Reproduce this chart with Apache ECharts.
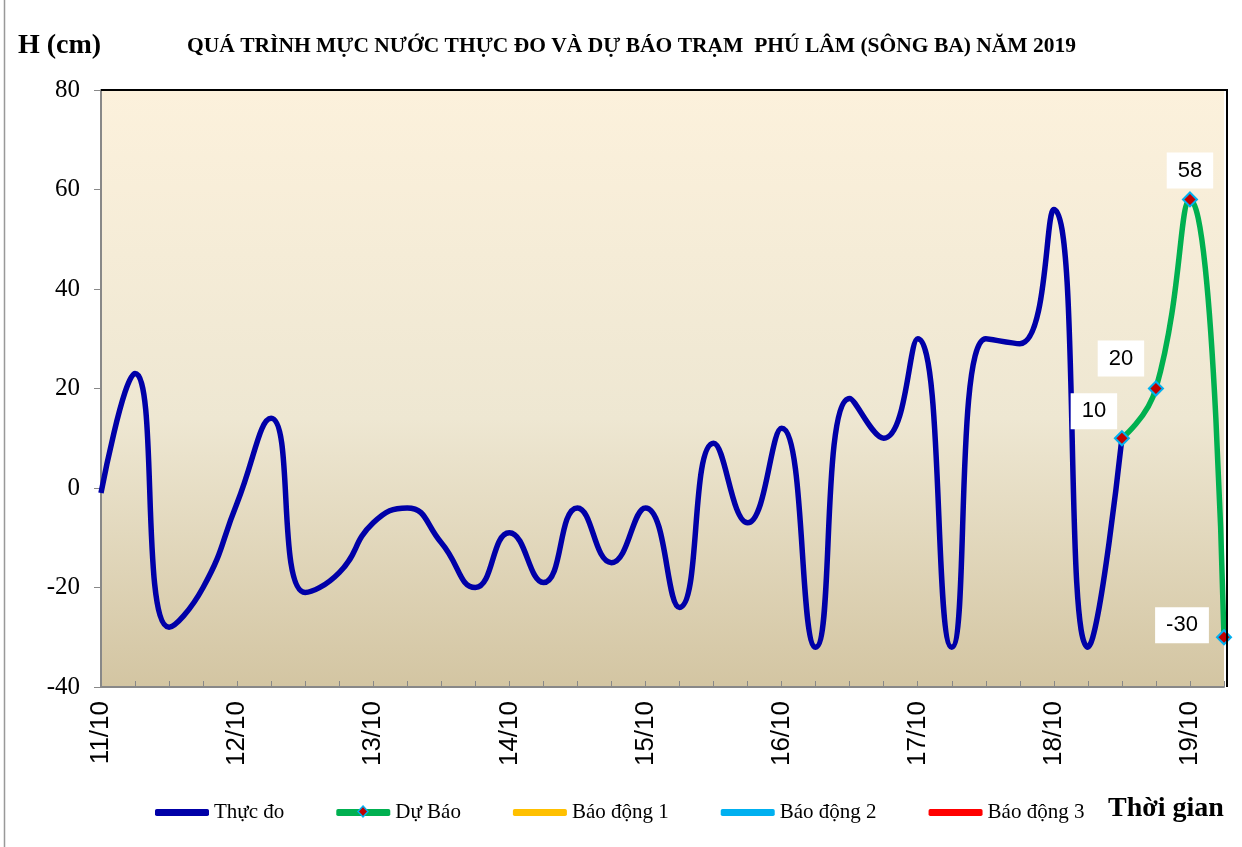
<!DOCTYPE html>
<html>
<head>
<meta charset="utf-8">
<title>Mực nước trạm Phú Lâm</title>
<script src="https://cdn.jsdelivr.net/npm/echarts@6/dist/echarts.min.js"></script>
<style>
  html, body { margin: 0; padding: 0; background: #fff; }
  #main { width: 1242px; height: 847px; }
</style>
</head>
<body>
<div id="main"></div>
<script>
// ngày trên trục hoành, mỗi ngày 4 obs (6 giờ một lần)
var days = ['11/10', '12/10', '13/10', '14/10', '15/10', '16/10', '17/10', '18/10', '19/10'];
var hours = ['1h', '7h', '13h', '19h'];
var soDiem = 34;

// mực nước thực đo (cm)
var thucDo = [-1, 23, -28, -20, -3, 14, -21, -17, -7, -4, -11, -20, -9, -19, -4, -15,
              -4, -24, 9, -7, 12, -32, 18, 10, 30, -32, 30, 29, 56, -32, 10];
// mực nước dự báo, bắt đầu từ điểm thực đo cuối
var duBao = [10, 20, 58, -30];
var duBaoStart = 30;

var yTicks = { min: -40, max: 80, interval: 20 };

var categories = [];
days.forEach(function (d) {
    hours.forEach(function (h) {
        if (categories.length < soDiem) categories.push(d + ' ' + h);
    });
});

var duBaoData = [];
for (var i = 0; i < duBaoStart; i++) duBaoData.push(null);
// vị trí nhãn so với điểm (px)
var nhanLech = [[-28, -27], [-35, -30], [0, -29], [-42, -12]];
duBao.forEach(function (v, k) {
    duBaoData.push({ value: v, label: { offset: nhanLech[k] } });
});

var serif = '"Liberation Serif", "Times New Roman", serif';
var sans = '"Liberation Sans", Arial, sans-serif';

var myChart = echarts.init(document.getElementById('main'));
var option = {
    animation: false,
    backgroundColor: '#fff',
    title: {
        text: 'QUÁ TRÌNH MỰC NƯỚC THỰC ĐO VÀ DỰ BÁO TRẠM  PHÚ LÂM (SÔNG BA) NĂM 2019',
        left: 182,
        top: 30,
        textStyle: { fontFamily: serif, fontWeight: 'bold', fontSize: 21.5, color: '#000' }
    },
    graphic: [
        { type: 'line', shape: { x1: 4.5, y1: 0, x2: 4.5, y2: 847 }, style: { stroke: '#999', lineWidth: 1.5 } },
        // khung trên và phải của vùng vẽ
        { type: 'line', z: 10, shape: { x1: 101, y1: 90, x2: 1228, y2: 90 }, style: { stroke: '#000', lineWidth: 2 } },
        { type: 'line', z: 10, shape: { x1: 1227, y1: 89, x2: 1227, y2: 687 }, style: { stroke: '#000', lineWidth: 2 } },
        { type: 'text', left: 18, top: 32, style: { text: 'H (cm)', font: 'bold 28px ' + serif, fill: '#000' } },
        { type: 'text', left: 1108, top: 795, style: { text: 'Thời gian', font: 'bold 28px ' + serif, fill: '#000' } },
        // dấu kim cương trên biểu tượng chú giải "Dự Báo"
        { type: 'polygon', z: 100, shape: { points: [[363, 806], [368, 811.5], [363, 817], [358, 811.5]] },
          style: { fill: '#C00000', stroke: '#00B0F0', lineWidth: 1.5 } }
    ],
    legend: {
        left: 150,
        top: 797,
        itemWidth: 54,
        itemHeight: 7,
        itemGap: 52,
        icon: 'roundRect',
        textStyle: { fontFamily: serif, fontSize: 21, color: '#000' },
        data: [
            'Thực đo',
            { name: 'Dự Báo', itemStyle: { color: '#00B050', borderWidth: 0 } },
            'Báo động 1', 'Báo động 2', 'Báo động 3'
        ]
    },
    grid: {
        left: 101, right: 18, top: 90, bottom: 160,
        show: true,
        borderWidth: 0,
        backgroundColor: new echarts.graphic.LinearGradient(0, 0, 0, 1, [
            { offset: 0, color: '#FCF1DC' },
            { offset: 0.55, color: '#EEE7D2' },
            { offset: 1, color: '#D3C5A2' }
        ])
    },
    xAxis: {
        type: 'category',
        boundaryGap: false,
        data: categories,
        axisLine: { onZero: false, lineStyle: { color: '#888', width: 2 } },
        axisTick: { show: true, inside: true, length: 6, interval: 0, lineStyle: { color: '#888', width: 1 } },
        axisLabel: {
            interval: 3,
            rotate: 90,
            margin: 14,
            fontFamily: sans,
            fontSize: 26,
            color: '#000',
            formatter: function (v) { return v.split(' ')[0]; }
        },
        splitLine: { show: false }
    },
    yAxis: {
        type: 'value',
        min: yTicks.min,
        max: yTicks.max,
        interval: yTicks.interval,
        axisLine: { show: true, lineStyle: { color: '#888', width: 2 } },
        axisTick: { show: true, length: 7, lineStyle: { color: '#888', width: 1 } },
        axisLabel: { margin: 21, fontFamily: serif, fontSize: 25, color: '#000' },
        splitLine: { show: false }
    },
    series: [
        {
            name: 'Thực đo',
            type: 'line',
            smooth: 0.5,
            data: thucDo,
            showSymbol: false,
            symbol: 'none',
            itemStyle: { color: '#0000A8' },
            lineStyle: { color: '#0000A8', width: 5.5 },
            z: 3
        },
        {
            name: 'Dự Báo',
            type: 'line',
            smooth: 0.5,
            data: duBaoData,
            symbol: 'diamond',
            symbolSize: 14,
            itemStyle: { color: '#C00000', borderColor: '#00B0F0', borderWidth: 2 },
            lineStyle: { color: '#00B050', width: 5.5 },
            label: {
                show: true,
                position: 'inside',
                fontFamily: sans,
                fontSize: 22,
                color: '#000',
                backgroundColor: '#fff',
                padding: [7, 11]
            },
            z: 4
        },
        { name: 'Báo động 1', type: 'line', data: [], itemStyle: { color: '#FFC000' }, lineStyle: { color: '#FFC000', width: 5.5 }, symbol: 'none' },
        { name: 'Báo động 2', type: 'line', data: [], itemStyle: { color: '#00B0F0' }, lineStyle: { color: '#00B0F0', width: 5.5 }, symbol: 'none' },
        { name: 'Báo động 3', type: 'line', data: [], itemStyle: { color: '#FF0000' }, lineStyle: { color: '#FF0000', width: 5.5 }, symbol: 'none' }
    ]
};
myChart.setOption(option);
</script>
</body>
</html>
